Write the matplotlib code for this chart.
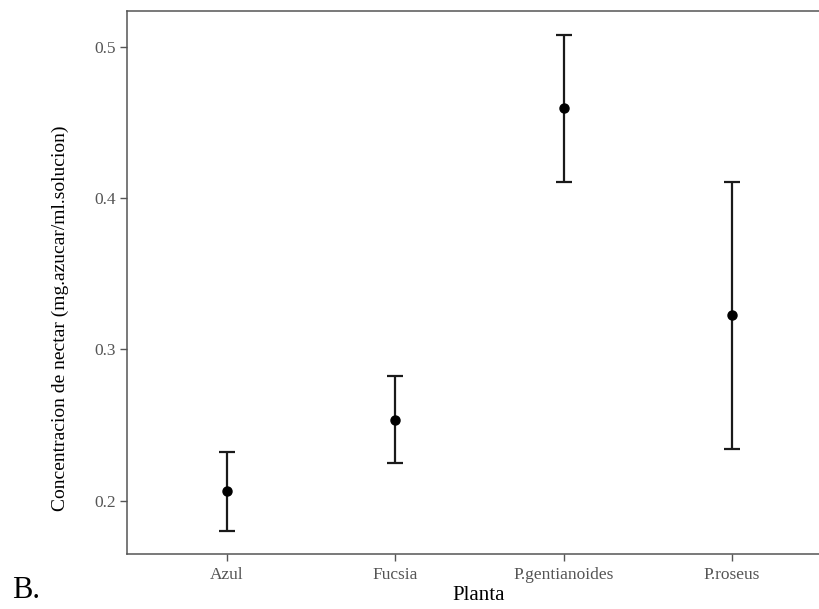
import matplotlib
matplotlib.use("Agg")
import matplotlib.pyplot as plt

# Data
categories = ["Azul", "Fucsia", "P.gentianoides", "P.roseus"]
means = [0.2064, 0.2533, 0.4593, 0.3227]
lower = [0.1802, 0.2251, 0.4104, 0.2340]
upper = [0.2324, 0.2824, 0.5077, 0.4108]
yticks = [0.2, 0.3, 0.4, 0.5]
ytick_labels = ["0.2", "0.3", "0.4", "0.5"]

plt.rcParams['font.family'] = ['Liberation Serif', 'DejaVu Serif']

fig = plt.figure(figsize=(8.2, 6.09), dpi=100)
ax = fig.add_axes([0.1545, 0.0898, 0.8605, 0.8921])

x = list(range(1, len(categories) + 1))
yerr = [[m - l for m, l in zip(means, lower)], [u - m for m, u in zip(means, upper)]]
ax.errorbar(x, means, yerr=yerr, fmt='o', color='black', ecolor='#1a1a1a',
            elinewidth=1.6, capsize=6, capthick=1.6, markersize=6.5)

ax.set_xlim(0.405, 4.595)
ax.set_ylim(0.1646, 0.5237)
ax.set_xticks(x)
ax.set_xticklabels(categories, fontsize=12.5, color='#555555')
ax.set_yticks(yticks)
ax.set_yticklabels(ytick_labels, fontsize=12.5, color='#555555')
ax.tick_params(axis='both', length=5, width=1, color='#555555')
ax.tick_params(axis='x', pad=4)
ax.tick_params(axis='y', pad=3)

for s in ['top', 'left', 'bottom']:
    ax.spines[s].set_color('#555555')
    ax.spines[s].set_linewidth(1.1)
ax.spines['right'].set_visible(False)

fig.text(478.7 / 820, 1 - 600 / 609, "Planta", ha='center', va='baseline', fontsize=15)
fig.text(60 / 820, 1 - 318 / 609, "Concentracion de nectar (mg.azucar/ml.solucion)",
         rotation=90, ha='center', va='center', fontsize=14)
fig.text(12 / 820, 1 - 598 / 609, "B.", ha='left', va='baseline', fontsize=22)

fig.savefig("out.png", dpi=100)
